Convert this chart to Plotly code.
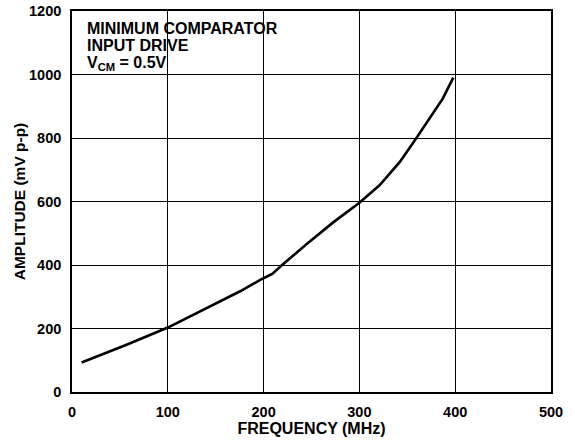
import plotly.graph_objects as go

freq_mhz = [10, 57, 100, 140, 176, 197, 209, 219, 245, 273, 300, 321, 342, 359, 373, 387, 398]
amplitude_mv = [93, 149, 203, 263, 318, 354, 372, 399, 466, 535, 596, 651, 724, 798, 861, 924, 990]

x_ticks = [0, 100, 200, 300, 400, 500]
y_ticks = [0, 200, 400, 600, 800, 1000, 1200]

FONT = "Liberation Sans, Arial, Helvetica, sans-serif"

fig = go.Figure()
fig.add_trace(go.Scatter(
    x=freq_mhz, y=amplitude_mv, mode="lines",
    line=dict(color="black", width=2.6),
    showlegend=False, hoverinfo="skip",
))

axis_common = dict(
    showgrid=True, gridcolor="black", gridwidth=1,
    showline=True, linecolor="black", linewidth=1.6, mirror=True,
    zeroline=False, automargin=False,
    ticks="outside", ticklen=6, tickcolor="rgba(0,0,0,0)",
    tickfont=dict(family=FONT, size=14.5, color="black", weight="bold"),
)

fig.update_xaxes(
    range=[0, 500], tickvals=x_ticks, ticktext=[str(v) for v in x_ticks],
    title=dict(text="FREQUENCY (MHz)", font=dict(family=FONT, size=16, color="black", weight="bold"), standoff=4),
    **axis_common,
)
fig.update_yaxes(
    range=[0, 1200], tickvals=y_ticks, ticktext=[str(v) for v in y_ticks],
    title=dict(text="AMPLITUDE (mV p-p)", font=dict(family=FONT, size=15.5, color="black", weight="bold"), standoff=0),
    **axis_common,
)

# white box behind the caption, hiding the grid
fig.add_shape(type="rect", xref="paper", yref="paper",
              x0=0.019, x1=0.444, y0=0.818, y1=0.989,
              fillcolor="white", line=dict(width=0), layer="between")

caption_lines = ["MINIMUM COMPARATOR", "INPUT DRIVE", "V<sub>CM</sub> = 0.5V"]
caption_y = [0.953, 0.909, 0.862]
for txt, yy in zip(caption_lines, caption_y):
    fig.add_annotation(
        x=0.027, y=yy, xref="paper", yref="paper",
        xanchor="left", yanchor="middle", showarrow=False, text=txt,
        font=dict(family=FONT, size=16, color="black", weight="bold"),
    )

fig.update_layout(
    width=575, height=444,
    margin=dict(l=72, r=23.5, t=10.7, b=52.3),
    paper_bgcolor="white", plot_bgcolor="white",
)

fig.write_html("out.html", config={"displayModeBar": False},
               post_script="document.body.style.margin='0px';")
